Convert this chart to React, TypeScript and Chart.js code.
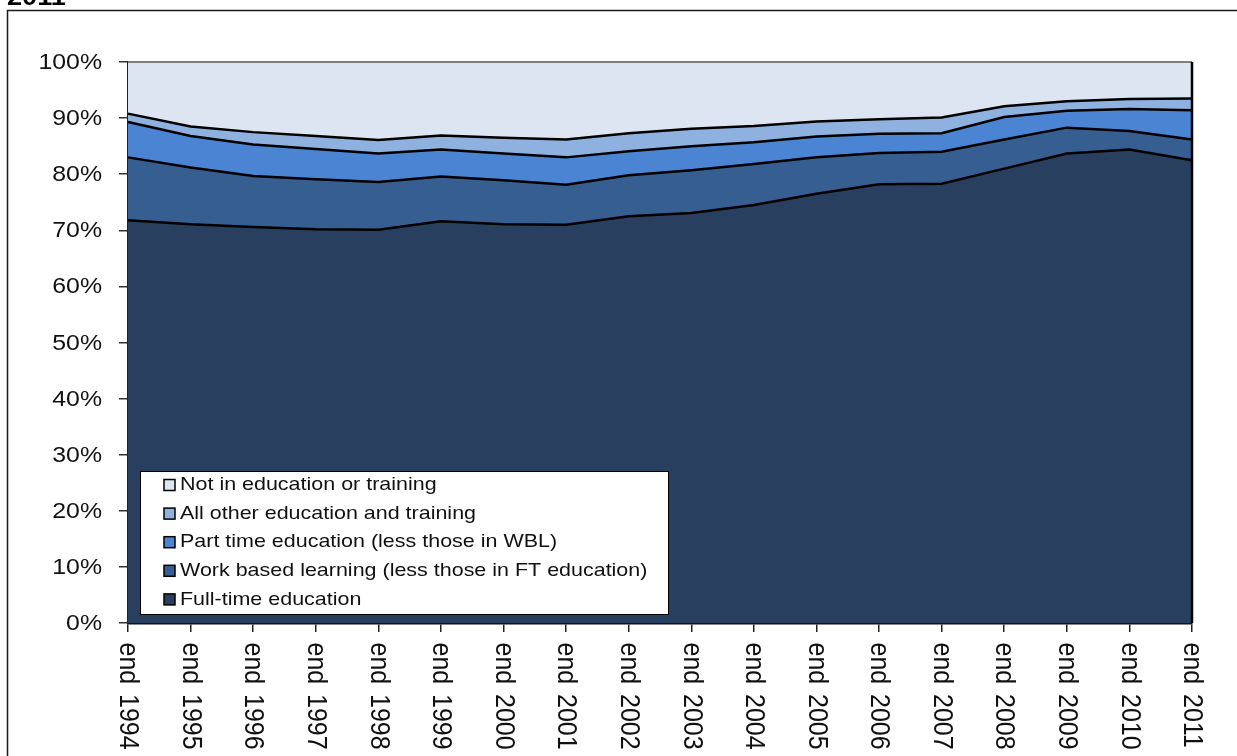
import React, { useEffect, useRef } from "react";
import { Chart, registerables } from "chart.js";

Chart.register(...registerables);

// Years on the category axis
const years = [
  "1994", "1995", "1996", "1997", "1998", "1999", "2000", "2001", "2002",
  "2003", "2004", "2005", "2006", "2007", "2008", "2009", "2010", "2011",
];
const xTickLabels = years.map((y) => `end ${y}`);

// Shares of the cohort (percentage points), stacked bottom to top
const fullTime = [71.8, 71.1, 70.6, 70.2, 70.1, 71.6, 71.1, 71.0, 72.5, 73.1, 74.5, 76.5, 78.2, 78.3, 81.0, 83.7, 84.4, 82.5];
const workBased = [11.2, 10.1, 9.1, 8.9, 8.5, 8.0, 7.8, 7.1, 7.3, 7.6, 7.3, 6.5, 5.6, 5.7, 5.2, 4.6, 3.3, 3.7];
const partTime = [6.3, 5.6, 5.6, 5.4, 5.1, 4.8, 4.8, 4.9, 4.3, 4.3, 3.9, 3.7, 3.4, 3.3, 4.0, 3.0, 3.9, 5.2];
const otherEdu = [1.5, 1.7, 2.2, 2.3, 2.4, 2.5, 2.8, 3.2, 3.2, 3.1, 2.9, 2.7, 2.6, 2.8, 1.9, 1.7, 1.8, 2.1];
const notInEdu = [9.2, 11.5, 12.5, 13.2, 13.9, 13.1, 13.5, 13.8, 12.7, 11.9, 11.4, 10.6, 10.2, 9.9, 7.9, 7.0, 6.6, 6.5];

const seriesLabels = [
  "Full-time education",
  "Work based learning (less those in FT education)",
  "Part time education (less those in WBL)",
  "All other education and training",
  "Not in education or training",
];
const seriesColors = ["#283F60", "#375E90", "#4A84D2", "#8EB1E0", "#DCE5F1"];

const yTickValues = [0, 10, 20, 30, 40, 50, 60, 70, 80, 90, 100];

const FONT = "'Liberation Sans', Arial, sans-serif";
const STRETCH = 1.13;

function stretchedText(
  ctx: CanvasRenderingContext2D,
  text: string,
  x: number,
  y: number,
  font: string,
  align: CanvasTextAlign,
  color: string
) {
  ctx.save();
  ctx.translate(x, y);
  ctx.scale(STRETCH, 1);
  ctx.font = font;
  ctx.fillStyle = color;
  ctx.textAlign = align;
  ctx.textBaseline = "middle";
  ctx.fillText(text, 0, 0);
  ctx.restore();
}

const decorations = {
  id: "decorations",
  beforeDraw(chart: any) {
    const ctx: CanvasRenderingContext2D = chart.ctx;
    ctx.save();
    ctx.fillStyle = "#ffffff";
    ctx.fillRect(0, 0, chart.width, chart.height);
    // outer frame of the figure
    ctx.strokeStyle = "#1a1a1a";
    ctx.lineWidth = 1.5;
    ctx.strokeRect(7.5, 10.5, 2000, 2000);
    // heading, mostly above the page edge
    ctx.translate(7, 5);
    ctx.scale(STRETCH, 1);
    ctx.font = `bold 24px ${FONT}`;
    ctx.fillStyle = "#000";
    ctx.textAlign = "left";
    ctx.textBaseline = "alphabetic";
    ctx.fillText("2011", 0, 0);
    ctx.restore();
  },
  afterDatasetsDraw(chart: any) {
    const ctx: CanvasRenderingContext2D = chart.ctx;
    const { left, right, top, bottom } = chart.chartArea;
    ctx.save();
    ctx.strokeStyle = "#7f7f7f";
    ctx.lineWidth = 2;
    ctx.beginPath();
    ctx.moveTo(left, top);
    ctx.lineTo(right, top);
    ctx.stroke();
    ctx.strokeStyle = "#000";
    ctx.lineWidth = 2.5;
    ctx.beginPath();
    ctx.moveTo(right, top);
    ctx.lineTo(right, bottom);
    ctx.stroke();
    ctx.restore();
  },
  afterDraw(chart: any) {
    const ctx: CanvasRenderingContext2D = chart.ctx;
    const xs = chart.scales.x;
    const ys = chart.scales.y;

    // y tick labels
    yTickValues.forEach((v) => {
      const y = ys.getPixelForValue(v);
      stretchedText(ctx, `${v}%`, 102, y + 1, `22px ${FONT}`, "right", "#111");
    });

    // x tick labels, reading downwards, with a wide gap before the year
    xTickLabels.forEach((lab, i) => {
      const x = xs.getPixelForTick(i);
      const sp = lab.indexOf(" ");
      const head = lab.slice(0, sp);
      const tail = lab.slice(sp + 1);
      ctx.save();
      ctx.translate(x, 642.5);
      ctx.rotate(Math.PI / 2);
      ctx.scale(1, STRETCH);
      ctx.font = `25px ${FONT}`;
      ctx.fillStyle = "#111";
      ctx.textAlign = "left";
      ctx.textBaseline = "middle";
      ctx.fillText(head, 0, 0);
      ctx.fillText(tail, 51.5, 0);
      ctx.restore();
    });

    // legend box inside the plot
    const bx = 140, by = 471, bw = 528, bh = 143;
    ctx.save();
    ctx.fillStyle = "#ffffff";
    ctx.fillRect(bx, by, bw, bh);
    ctx.strokeStyle = "#000";
    ctx.lineWidth = 1;
    ctx.strokeRect(bx + 0.5, by + 0.5, bw, bh);
    ctx.restore();
    const ds = chart.data.datasets;
    for (let k = 0; k < ds.length; k++) {
      const d = ds[ds.length - 1 - k];
      const cy = 485 + k * 28.6;
      ctx.save();
      ctx.fillStyle = d.backgroundColor;
      ctx.fillRect(164, cy - 5.5, 11, 11);
      ctx.strokeStyle = "#000";
      ctx.lineWidth = 1.5;
      ctx.strokeRect(164, cy - 5.5, 11, 11);
      ctx.restore();
      stretchedText(ctx, d.label, 180, cy, `19px ${FONT}`, "left", "#111");
    }
  },
};

export default function App() {
  const ref = useRef<HTMLCanvasElement | null>(null);

  useEffect(() => {
    if (!ref.current) return;
    const series = [fullTime, workBased, partTime, otherEdu, notInEdu];
    const chart = new Chart(ref.current, {
      type: "line",
      data: {
        labels: xTickLabels,
        datasets: series.map((values, i) => ({
          label: seriesLabels[i],
          data: values,
          backgroundColor: seriesColors[i],
          borderColor: "#000000",
          borderWidth: i === 4 ? 0 : 2.5,
          fill: i === 0 ? "origin" : "-1",
          pointRadius: 0,
          tension: 0,
        })),
      },
      options: {
        responsive: false,
        animation: false,
        devicePixelRatio: 1,
        layout: { padding: { left: 0, top: 62, right: 45, bottom: 0 } },
        plugins: {
          legend: { display: false },
          tooltip: { enabled: false },
        },
        scales: {
          x: {
            type: "category",
            offset: false,
            afterFit: (s: any) => {
              s.height = 133;
            },
            ticks: { display: false, autoSkip: false },
            grid: {
              drawOnChartArea: false,
              drawTicks: true,
              tickLength: 9,
              color: "#222",
              lineWidth: 1.5,
            },
            border: { display: true, color: "#111", width: 2.5 },
          },
          y: {
            stacked: true,
            min: 0,
            max: 100,
            afterFit: (s: any) => {
              s.width = 128;
            },
            ticks: { display: false, stepSize: 10 },
            grid: {
              drawOnChartArea: false,
              drawTicks: true,
              tickLength: 9,
              color: "#333",
              lineWidth: 1.5,
            },
            border: { display: true, color: "#222", width: 2 },
          },
        },
      },
      plugins: [decorations],
    });
    return () => chart.destroy();
  }, []);

  return (
    <div
      style={{
        position: "fixed",
        left: 0,
        top: 0,
        width: 1237,
        height: 756,
        overflow: "hidden",
        background: "#fff",
      }}
    >
      <canvas ref={ref} width={1237} height={756} style={{ display: "block" }} />
    </div>
  );
}
